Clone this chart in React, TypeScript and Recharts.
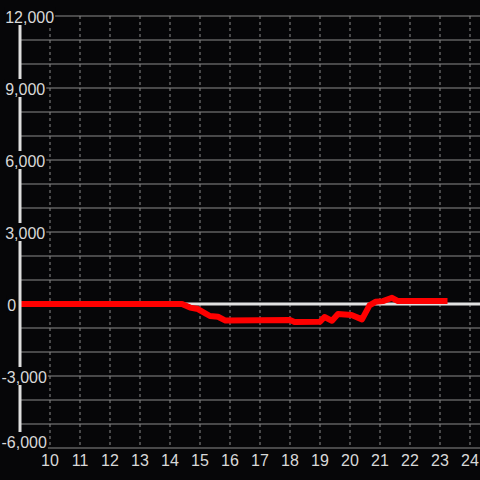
import React from 'react';
import { LineChart, Line, XAxis, YAxis, CartesianGrid, ReferenceLine } from 'recharts';

const BG = '#060608';
const GRID = '#8a8a8a';
const TXT = '#d8d8d8';
const FONT = '"Liberation Sans", Arial, sans-serif';

// hours (x) and values (y)
const HOURS = [9, 14.4, 14.67, 14.93, 15.33, 15.6, 15.85, 18.0, 18.15, 19.0, 19.15, 19.4, 19.6, 20.05, 20.4, 20.65, 20.85, 21.1, 21.4, 21.6, 23.25];
const VALUES = [0, 0, -150, -210, -500, -530, -690, -670, -750, -740, -540, -700, -420, -460, -640, -60, 90, 120, 260, 120, 120];

const X_TICKS = [10, 11, 12, 13, 14, 15, 16, 17, 18, 19, 20, 21, 22, 23, 24];
const Y_TICKS = [-6000, -3000, 0, 3000, 6000, 9000, 12000];
const Y_GRID = [-6000, -5000, -4000, -3000, -2000, -1000, 0, 1000, 2000, 3000, 4000, 5000, 6000, 7000, 8000, 9000, 10000, 11000, 12000];

const data = HOURS.map((h, i) => ({ h, v: VALUES[i] }));

const fmt = (v: number) => v.toLocaleString('en-US');

function textWidth(s: string) {
  let w = 0;
  for (const c of s) w += c === ',' ? 4.45 : c === '-' ? 5.3 : 8.9;
  return w;
}

const YTick = (props: any) => {
  const { y, payload } = props;
  const s = fmt(payload.value);
  const x0 = payload.value < 0 ? 1.5 : payload.value === 0 ? 7.3 : 5.2;
  const w = textWidth(s);
  // bottom label is lifted so it stays clear of the x labels
  const lift = payload.value === -6000 ? 7 : 0;
  return (
    <g>
      <rect x={x0 - 1} y={y - 9 - lift} width={w + 2} height={18} fill={BG} />
      <text x={x0} y={y - lift} dy={6.5} fill={TXT} fontSize={16} fontFamily={FONT} textAnchor="start">{s}</text>
    </g>
  );
};

const XTick = (props: any) => {
  const { x, payload } = props;
  return (
    <text x={x} y={466} fill={TXT} fontSize={16} fontFamily={FONT} textAnchor="middle">{payload.value}</text>
  );
};

export default function App() {
  return (
    <div style={{ position: 'absolute', left: 0, top: 0, width: 480, height: 480, background: BG }}>
      <LineChart width={480} height={480} data={data} margin={{ top: 16, right: 0, bottom: 0, left: 0 }}>
        <CartesianGrid horizontal={false} verticalValues={X_TICKS} stroke={GRID} strokeDasharray="3 3" />
        <CartesianGrid vertical={false} horizontalValues={Y_GRID} stroke={GRID} />
        <XAxis dataKey="h" type="number" domain={[9, 9 + 46 / 3]} ticks={X_TICKS} height={32}
          axisLine={false} tickLine={false} tick={<XTick />} allowDataOverflow />
        <YAxis type="number" domain={[-6000, 12000]} ticks={Y_TICKS} width={20}
          axisLine={{ stroke: '#dedede', strokeWidth: 3 }} tickLine={false} tick={<YTick />} />
        <ReferenceLine y={0} stroke="#e2e2e2" strokeWidth={3} />
        <Line dataKey="v" type="linear" stroke="#ff0000" strokeWidth={6} dot={false}
          strokeLinejoin="round" isAnimationActive={false} />
      </LineChart>
    </div>
  );
}
